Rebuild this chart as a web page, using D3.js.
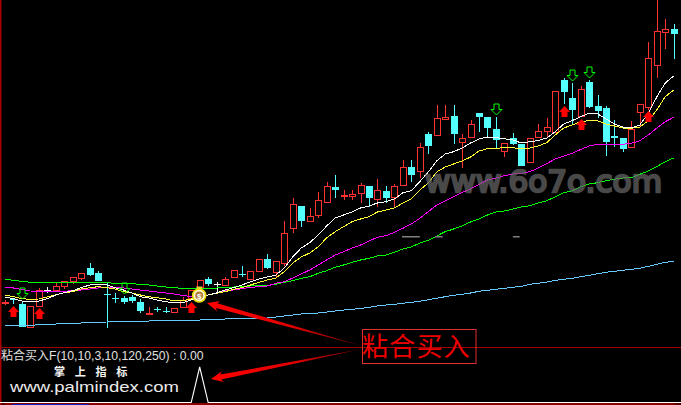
<!DOCTYPE html>
<html>
<head>
<meta charset="utf-8">
<style>
html,body{margin:0;padding:0;background:#000;overflow:hidden}
svg{display:block}
</style>
<script src="https://cdn.jsdelivr.net/npm/d3@7"></script>
</head>
<body>
<svg id="c" width="681" height="405"></svg>
<script>
// ---- data (price units) ----
const opens=[4.29,4.6,4.1,1.8,3.9,5.5,5.5,5.9,6.4,6.7,7.7,7.2,5.1,4.7,4.7,4.8,4.3,3.2,3.6,3.45,3.3,3.8,4.7,5.8,6.6,6.1,6.0,6.8,7.1,6.6,7.4,8.6,7.3,8.2,11.7,13.9,12.4,13.0,14.3,15.8,15.0,14.9,15.2,15.9,14.6,15.4,14.8,16.0,17.8,17.4,21.1,21.0,22.6,22.9,20.3,20.8,23.2,22.8,21.6,19.4,20.7,20.1,18.3,20.8,21.4,21.3,26.5,24.7,22.9,26.3,23.9,23.7,20.9,20.7,19.8,23.3,23.8,28.0,31.3,31.6];
const closes=[4.3,4.59,1.8,3.9,5.5,5.5,5.9,6.4,6.8,7.2,7.0,6.4,5.09,4.69,4.3,4.4,3.4,3.21,3.59,3.44,3.7,4.5,5.5,6.5,6.1,6.1,6.6,7.5,7.09,7.4,8.6,7.7,8.4,11.2,14.1,12.4,12.9,14.5,15.9,15.5,15.01,15.1,16.0,14.7,15.5,14.7,15.9,17.8,17.0,19.8,19.9,22.7,22.8,21.1,20.7,22.1,22.8,21.7,20.5,20.2,20.1,17.9,20.7,21.4,21.8,25.4,25.3,23.5,25.6,23.8,23.4,20.3,20.7,19.6,21.6,24.1,28.7,31.4,31.6,31.1];
const highs=[4.5,4.7,4.3,3.9,5.7,5.8,6.2,6.4,6.8,7.2,8.2,7.4,6.2,5.2,4.9,5.0,4.6,3.8,3.8,3.8,3.7,4.8,5.5,6.5,6.8,6.3,6.8,7.5,7.9,7.4,8.6,9.1,8.4,12.4,14.7,13.9,13.7,15.3,16.3,17.0,15.5,15.5,16.2,15.9,16.6,15.9,16.1,18.5,18.5,20.2,21.3,24.0,24.0,24.0,21.1,22.5,23.2,22.8,22.8,20.2,21.2,20.1,20.7,22.1,22.7,25.4,26.7,26.2,25.9,26.5,25.0,23.9,22.5,20.7,22.4,24.1,30.3,36.0,32.6,32.1];
const lows=[4.0,4.1,1.8,1.8,3.9,5.2,5.5,5.6,6.1,6.5,6.9,6.4,1.7,4.2,4.1,4.2,3.2,3.2,3.3,3.2,3.3,3.8,4.7,5.8,5.9,5.3,5.9,6.8,6.8,6.6,7.4,7.6,6.7,7.9,11.2,11.8,12.4,12.7,14.3,14.7,14.5,14.5,14.2,13.8,13.8,14.2,13.7,16.0,16.3,16.7,19.1,20.9,22.6,20.1,17.7,20.8,21.3,20.8,19.6,18.8,20.0,17.9,18.3,20.8,20.8,21.2,24.1,22.0,22.9,23.7,22.7,18.9,19.8,19.3,19.8,21.8,23.5,26.7,29.6,28.6];
const maWhite=[4.8,4.63,4.4,4.3,4.4,4.63,5.0,5.23,5.43,5.73,6.0,6.1,6.0,5.73,5.5,5.2,4.83,4.7,4.5,4.33,4.23,4.23,4.5,4.83,5.0,5.2,5.5,5.73,6.0,6.33,6.6,6.8,7.0,7.7,8.83,9.7,10.23,11.0,11.9,12.7,13.0,13.3,13.7,13.9,14.2,14.33,14.6,15.23,15.43,16.33,17.3,18.4,19.1,19.33,19.7,20.2,20.6,20.8,20.73,20.63,20.5,20.2,20.33,20.45,20.7,21.33,22.1,22.43,22.83,23.17,23.13,22.6,22.1,21.8,21.7,22.0,23.2,24.8,26.2,26.9];
const maYellow=[5.0,4.83,4.63,4.57,4.6,4.8,5.03,5.23,5.33,5.6,5.73,5.83,5.73,5.6,5.33,5.2,5.0,4.83,4.73,4.6,4.4,4.43,4.6,4.83,5.0,5.17,5.33,5.57,5.73,6.0,6.27,6.5,6.7,7.33,8.2,8.8,9.2,9.83,10.7,11.33,11.83,12.33,12.6,12.83,13.3,13.5,13.7,14.2,14.6,15.5,16.2,17.3,17.8,18.1,18.4,18.8,19.4,19.63,19.67,19.73,19.73,19.6,19.7,19.9,20.23,21.0,21.7,22.0,22.33,22.43,22.43,22.1,21.9,21.7,21.67,21.8,22.43,23.5,24.83,25.5];
const maMagenta=[5.75,5.7,5.55,5.4,5.35,5.35,5.35,5.35,5.45,5.5,5.6,5.7,5.75,5.75,5.7,5.6,5.5,5.4,5.3,5.2,5.1,4.95,4.85,4.9,5.0,5.2,5.43,5.5,5.63,5.77,5.83,5.9,6.17,6.33,6.7,7.1,7.5,8.0,8.5,9.0,9.33,9.7,10.0,10.4,10.77,10.93,11.27,11.67,12.1,12.67,13.33,14.0,14.4,14.83,15.27,15.6,16.07,16.5,16.7,16.93,17.1,17.17,17.33,17.7,18.15,18.6,18.9,19.15,19.55,19.9,20.07,20.07,20.07,20.07,20.17,20.43,21.0,21.7,22.33,22.77];
const maGreen=[6.57,6.47,6.37,6.27,6.25,6.25,6.25,6.25,6.25,6.25,6.25,6.25,6.23,6.17,6.17,6.15,6.05,6.0,5.9,5.8,5.73,5.65,5.6,5.65,5.7,5.7,5.77,5.8,5.83,5.9,5.93,5.97,6.07,6.27,6.43,6.67,6.83,7.17,7.43,7.77,8.0,8.27,8.5,8.67,8.9,9.0,9.27,9.6,9.8,10.2,10.47,10.9,11.33,11.6,11.9,12.3,12.6,13.0,13.3,13.4,13.6,13.8,13.93,14.2,14.43,14.8,15.23,15.43,15.83,16.1,16.23,16.43,16.57,16.7,16.73,17.07,17.4,17.83,18.33,18.7];
const maBlue=[1.95,1.95,1.95,1.95,2.05,2.05,2.1,2.15,2.15,2.2,2.25,2.25,2.3,2.35,2.35,2.4,2.4,2.4,2.45,2.45,2.45,2.45,2.5,2.5,2.55,2.55,2.6,2.65,2.65,2.65,2.65,2.7,2.8,2.9,3.0,3.1,3.15,3.2,3.3,3.4,3.5,3.57,3.65,3.77,3.9,4.0,4.07,4.17,4.27,4.37,4.53,4.67,4.83,4.97,5.07,5.2,5.37,5.47,5.57,5.67,5.77,5.87,6.07,6.17,6.3,6.47,6.57,6.67,6.83,6.97,7.13,7.27,7.37,7.47,7.57,7.67,7.87,8.07,8.27,8.37];
const buyIdx=[1,4,22,66,68,76];
const buyTop=[3.9,3.7,4.3,23.9,22.6,23.4];
const sellIdx=[2,14,58,67,69];
const sellTop=[5.7,6.2,24.1,27.5,27.8];
const signalIdx=23;
const tickIdx=[1,5,12,16,19,23,27,32,38,43,49,54,60,65,71,76];
const titleName="粘合买入";
const titleArgs="F(10,10,3,10,120,250) : 0.00";
const siteName="掌上指标";
const siteUrl="www.palmindex.com";
const watermark="www.6o7o.com";
const annotation="粘合买入";

// ---- scales ----
const N=opens.length;
const x=d3.scaleLinear().domain([0,N-1]).range([5,673.7]);
const y=d3.scaleLinear().domain([0,34.5]).range([345,0]);
const yInd=d3.scaleLinear().domain([0,1]).range([402.5,367]);
const svg=d3.select("#c");
svg.append("rect").attr("width",681).attr("height",405).attr("fill","#000");

const RED="#ff3232",CYAN="#54ffff",WHITE="#ffffff";
const colr=i=>closes[i]>opens[i]?RED:closes[i]<opens[i]?CYAN:WHITE;
const px=i=>Math.round(x(i));

// ---- candles ----
const cg=svg.append("g").attr("shape-rendering","crispEdges");
const idx=d3.range(N);
cg.selectAll("line.w").data(idx).join("line")
  .attr("x1",i=>px(i)+.5).attr("x2",i=>px(i)+.5)
  .attr("y1",i=>y(highs[i])).attr("y2",i=>y(lows[i]))
  .attr("stroke",colr).attr("stroke-width",1);
const bodyTop=i=>Math.round(y(Math.max(opens[i],closes[i])));
const bodyBot=i=>Math.round(y(Math.min(opens[i],closes[i])));
cg.selectAll("rect.b").data(idx).join("rect")
  .attr("x",i=>px(i)-3+(closes[i]>opens[i]?.5:0))
  .attr("width",i=>closes[i]>opens[i]?6:7)
  .attr("y",i=>{const t=bodyTop(i);return closes[i]>opens[i]?t+.5:t;})
  .attr("height",i=>Math.max(bodyBot(i)-bodyTop(i),1))
  .attr("fill",i=>closes[i]>opens[i]?"#000":colr(i))
  .attr("stroke",i=>closes[i]>opens[i]?RED:"none")
  .attr("stroke-width",1);

// ---- moving averages ----
const line=d3.line().x((d,i)=>x(i)).y(d=>y(d));
[[maBlue,"#66ccff"],[maGreen,"#00ff00"],[maMagenta,"#ff00ff"],[maYellow,"#ffff33"],[maWhite,"#ffffff"]].forEach(([s,c])=>{
  svg.append("path").attr("d",line(s)).attr("fill","none").attr("stroke",c)
    .attr("stroke-width",1).attr("shape-rendering","crispEdges");
});

// ---- signal arrows ----
const upArrow="M0,0L5.5,6L3,6L3,11L-3,11L-3,6L-5.5,6Z";
const downArrow="M-2.5,0L2.5,0L2.5,5.5L5.5,5.5L0,11L-5.5,5.5L-2.5,5.5Z";
svg.selectAll("path.buy").data(buyIdx).join("path")
  .attr("d",upArrow).attr("fill","#ff0000")
  .attr("transform",(d,k)=>`translate(${px(d)+.5},${y(buyTop[k])})`);
svg.selectAll("path.sell").data(sellIdx).join("path")
  .attr("d",downArrow).attr("fill","none").attr("stroke","#00ff00").attr("stroke-width",1)
  .attr("transform",(d,k)=>`translate(${px(d)+.5},${y(sellTop[k])})`);

// ---- money bag ----
const bag=svg.append("g").attr("transform",`translate(${x(signalIdx)-.5},295.5)`);
bag.append("path").attr("d","M-3,-9L3,-9L1.8,-5L-1.8,-5Z").attr("fill","#e0d040");
bag.append("circle").attr("r",6.5).attr("fill","#fff8d0").attr("stroke","#eadc00").attr("stroke-width",1.6);
bag.append("circle").attr("r",4).attr("fill","#b08040");
bag.append("text").attr("text-anchor","middle").attr("y",3).attr("font-size",8).attr("font-weight","bold")
  .attr("font-family","Liberation Sans").attr("fill","#fff").text("$");

// ---- watermark ----
svg.append("text").text(watermark).attr("x",425).attr("y",192)
  .attr("font-family","DejaVu Sans").attr("font-size",30)
  .attr("textLength",237).attr("lengthAdjust","spacingAndGlyphs")
  .attr("fill","#666").attr("stroke","#666").attr("stroke-width",2.4).attr("opacity",.72);
[[46.9,49],[50.8,51.7],[60,60.8]].forEach(([a,b])=>{
  svg.append("rect").attr("x",x(a)).attr("y",236).attr("width",x(b)-x(a)).attr("height",1.5).attr("fill","#808080");
});

// ---- frame ----
svg.append("rect").attr("x",0).attr("y",0).attr("width",1.5).attr("height",405).attr("fill","#a80000");
svg.append("line").attr("x1",0).attr("x2",681).attr("y1",347.5).attr("y2",347.5)
  .attr("stroke","#a00000").attr("stroke-width",1);

// ---- indicator panel ----
const ind=d3.range(N).map(i=>i===signalIdx?1:0);
const indLine=d3.line().x((d,i)=>x(i)).y(d=>yInd(d));
svg.append("path").attr("d",indLine(ind)).attr("fill","none").attr("stroke","#fff").attr("stroke-width",1.1);
svg.append("line").attr("x1",0).attr("x2",5).attr("y1",402.5).attr("y2",402.5).attr("stroke","#fff");
svg.append("line").attr("x1",673).attr("x2",681).attr("y1",402.5).attr("y2",402.5).attr("stroke","#fff");
const axis=d3.axisBottom(x).tickValues(tickIdx).tickSize(1).tickFormat("");
const ag=svg.append("g").attr("transform","translate(0,403.5)").call(axis);
ag.selectAll("line").attr("stroke","#c00000");
ag.select(".domain").attr("stroke","#c00000");
svg.append("line").attr("x1",0).attr("x2",681).attr("y1",404).attr("y2",404).attr("stroke","#b00000");
svg.append("line").attr("x1",12).attr("x2",89).attr("y1",404.5).attr("y2",404.5).attr("stroke","#1020c0");

const tt=svg.append("text").attr("y",359.5).attr("fill","#e0e0e0");
tt.append("tspan").attr("x",1).attr("font-family","Noto Sans CJK SC").attr("font-size",12).text(titleName);
tt.append("tspan").attr("x",49).attr("font-family","Liberation Sans").attr("font-size",12.2).text(titleArgs);
svg.append("text").text(siteName).attr("x",54).attr("y",376)
  .attr("font-family","Noto Sans CJK SC").attr("font-size",11.5).attr("font-weight","bold")
  .attr("fill","#f4f4f4").attr("letter-spacing",10)
  .attr("textLength",83).attr("lengthAdjust","spacingAndGlyphs");
svg.append("text").text(siteUrl).attr("x",10).attr("y",392)
  .attr("font-family","Liberation Sans").attr("font-size",15).attr("fill","#ececec")
  .attr("textLength",169).attr("lengthAdjust","spacingAndGlyphs");

// ---- annotation ----
const defs=svg.append("defs");
function wedge(id,tail,tip){
  const dx=tip[0]-tail[0],dy=tip[1]-tail[1],L=Math.hypot(dx,dy),ux=dx/L,uy=dy/L,nx=-uy,ny=ux;
  const g=defs.append("linearGradient").attr("id",id).attr("gradientUnits","userSpaceOnUse")
    .attr("x1",tail[0]).attr("y1",tail[1]).attr("x2",tip[0]).attr("y2",tip[1]);
  g.append("stop").attr("offset",0).attr("stop-color","#700000");
  g.append("stop").attr("offset",.45).attr("stop-color","#e00000");
  g.append("stop").attr("offset",1).attr("stop-color","#ff0000");
  const neck=[tip[0]-ux*10,tip[1]-uy*10],back=[tip[0]-ux*12,tip[1]-uy*12];
  const pts=[tail,
    [neck[0]+nx*2.5,neck[1]+ny*2.5],[back[0]+nx*5.5,back[1]+ny*5.5],tip,
    [back[0]-nx*5.5,back[1]-ny*5.5],[neck[0]-nx*2.5,neck[1]-ny*2.5]];
  svg.append("path").attr("d","M"+pts.map(p=>p.join(",")).join("L")+"Z").attr("fill",`url(#${id})`);
}
wedge("g1",[362,346],[207,303]);
wedge("g2",[362,349],[211,379]);
svg.append("rect").attr("x",362.5).attr("y",329.5).attr("width",113.5).attr("height",34)
  .attr("fill","none").attr("stroke","#e03030").attr("stroke-width",1);
svg.append("text").text(annotation).attr("x",362).attr("y",356)
  .attr("font-family","Noto Sans CJK SC").attr("font-size",26).attr("fill","#ee0000")
  .attr("letter-spacing",1.2);
</script>
</body>
</html>
